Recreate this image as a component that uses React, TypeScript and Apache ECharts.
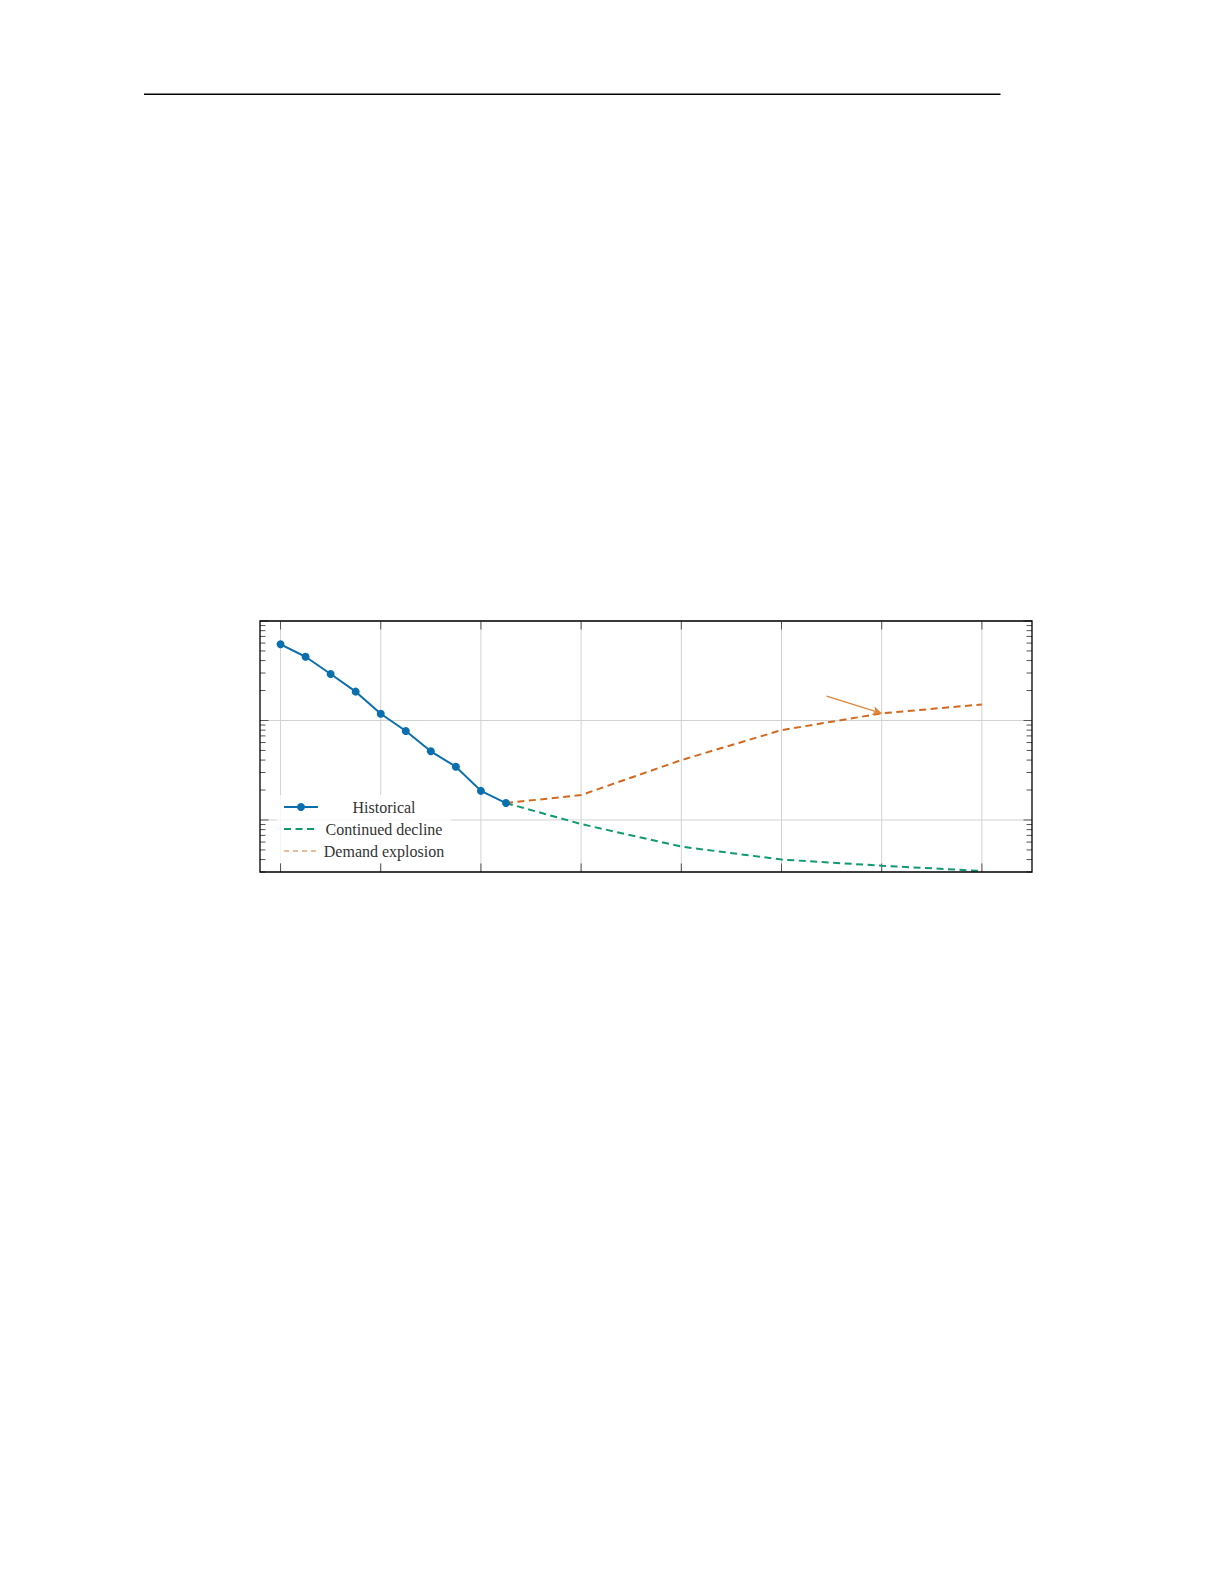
import React, { useEffect, useRef } from 'react';
import * as echarts from 'echarts';

// Historical observations (one per year) and the two projections
const historicalYears = [2016, 2017, 2018, 2019, 2020, 2021, 2022, 2023, 2024, 2025];
const historicalValues = [58.3, 43.7, 29.3, 19.5, 11.7, 7.84, 4.9, 3.43, 1.96, 1.48];

const projectionYears = [2025, 2028, 2032, 2036, 2040, 2044];
const declineValues = [1.48, 0.91, 0.54, 0.4, 0.347, 0.307];
const explosionValues = [1.48, 1.78, 4.0, 8.0, 11.8, 14.5];

// annotation arrow, pointing at the 2040 demand point
const arrowStart = [2037.8, 17.6];
const arrowEnd = [2040, 11.8];

// tick positions
const xGridTicks = [2016, 2020, 2024, 2028, 2032, 2036, 2040, 2044];
const yMajorTicks = [1, 10, 100];
const yMinorTicks = [
  0.3, 0.4, 0.5, 0.6, 0.7, 0.8, 0.9,
  2, 3, 4, 5, 6, 7, 8, 9,
  20, 30, 40, 50, 60, 70, 80, 90,
];

const X_MIN = 2015.18;
const X_MAX = 2046;
const Y_MIN = 0.3;
const Y_MAX = 100;

const BLUE = '#0b6fad';
const GREEN = '#0f9a72';
const ORANGE = '#d2691e';
const GRID_COLOR = '#d2d2d2';
const TICK_COLOR = '#555';
const FONT = "'Liberation Serif', 'DejaVu Serif', serif";

const MAJOR_LEN = 8.5;
const MINOR_LEN = 5.5;

const pair = (xs: number[], ys: number[]) => xs.map((x, i) => [x, ys[i]]);

const App: React.FC = () => {
  const chartRef = useRef<HTMLDivElement>(null);

  useEffect(() => {
    if (!chartRef.current) return;
    const chart = echarts.init(chartRef.current, undefined, { renderer: 'svg' });

    const xTickItem = (params: any, api: any) => {
      const cs = params.coordSys;
      const x = api.coord([api.value(0), 1])[0];
      const top = cs.y;
      const bottom = cs.y + cs.height;
      return {
        type: 'group',
        children: [
          { type: 'line', shape: { x1: x, y1: top, x2: x, y2: bottom }, style: { stroke: GRID_COLOR, lineWidth: 1 } },
          { type: 'line', shape: { x1: x, y1: top, x2: x, y2: top + MAJOR_LEN }, style: { stroke: TICK_COLOR, lineWidth: 1 } },
          { type: 'line', shape: { x1: x, y1: bottom, x2: x, y2: bottom - MAJOR_LEN }, style: { stroke: TICK_COLOR, lineWidth: 1 } },
        ],
      };
    };

    const yTickItem = (len: number, withGrid: boolean) => (params: any, api: any) => {
      const cs = params.coordSys;
      const y = api.coord([2020, api.value(1)])[1];
      const left = cs.x;
      const right = cs.x + cs.width;
      const children: any[] = [];
      if (withGrid) {
        children.push({ type: 'line', shape: { x1: left, y1: y, x2: right, y2: y }, style: { stroke: GRID_COLOR, lineWidth: 1 } });
      }
      children.push({ type: 'line', shape: { x1: left, y1: y, x2: left + len, y2: y }, style: { stroke: TICK_COLOR, lineWidth: 1 } });
      children.push({ type: 'line', shape: { x1: right, y1: y, x2: right - len, y2: y }, style: { stroke: TICK_COLOR, lineWidth: 1 } });
      return { type: 'group', children };
    };

    const option = {
      animation: false,
      backgroundColor: '#fff',
      textStyle: { fontFamily: FONT },
      graphic: [
        {
          type: 'line',
          shape: { x1: 144, y1: 94.3, x2: 1000.5, y2: 94.3 },
          style: { stroke: '#000', lineWidth: 1.4 },
        },
      ],
      grid: {
        left: 260,
        top: 621,
        width: 772,
        height: 251,
        show: true,
        borderColor: '#000',
        borderWidth: 1.3,
        backgroundColor: 'transparent',
        z: 5,
      },
      xAxis: {
        type: 'value',
        min: X_MIN,
        max: X_MAX,
        axisLine: { show: false },
        axisTick: { show: false },
        axisLabel: { show: false },
        splitLine: { show: false },
      },
      yAxis: {
        type: 'log',
        logBase: 10,
        min: Y_MIN,
        max: Y_MAX,
        axisLine: { show: false },
        axisTick: { show: false },
        axisLabel: { show: false },
        splitLine: { show: false },
        minorTick: { show: false },
      },
      legend: {
        orient: 'vertical',
        left: 277,
        top: 795,
        padding: [4, 6, 4, 6],
        backgroundColor: 'rgba(255,255,255,0.8)',
        itemWidth: 34,
        itemHeight: 10,
        itemGap: 6,
        selectedMode: false,
        formatter: (name: string) => `{c|${name}}`,
        textStyle: {
          fontFamily: FONT,
          fontSize: 16,
          color: '#333',
          rich: {
            c: { width: 122, align: 'center', fontFamily: FONT, fontSize: 16, color: '#333', lineHeight: 16 },
          },
        },
        data: [
          { name: 'Historical' },
          { name: 'Continued decline', itemStyle: { opacity: 0 } },
          {
            name: 'Demand explosion',
            itemStyle: { opacity: 0 },
            lineStyle: { width: 1, color: '#cf7a36', type: [5, 4] },
          },
        ],
      },
      series: [
        {
          type: 'custom',
          name: 'xgrid',
          silent: true,
          z: 1,
          renderItem: xTickItem,
          data: xGridTicks.map((v) => [v, 1]),
        },
        {
          type: 'custom',
          name: 'ymajor',
          silent: true,
          z: 1,
          renderItem: yTickItem(MAJOR_LEN, true),
          data: yMajorTicks.map((v) => [2020, v]),
        },
        {
          type: 'custom',
          name: 'yminor',
          silent: true,
          z: 1,
          renderItem: yTickItem(MINOR_LEN, false),
          data: yMinorTicks.map((v) => [2020, v]),
        },
        {
          type: 'line',
          name: 'Historical',
          z: 4,
          data: pair(historicalYears, historicalValues),
          symbol: 'circle',
          symbolSize: 8,
          showSymbol: true,
          itemStyle: { color: BLUE },
          lineStyle: { color: BLUE, width: 2 },
        },
        {
          type: 'line',
          name: 'Continued decline',
          z: 3,
          data: pair(projectionYears, declineValues),
          symbol: 'none',
          itemStyle: { color: GREEN },
          lineStyle: { color: GREEN, width: 2, type: [7, 4.5] },
        },
        {
          type: 'line',
          name: 'Demand explosion',
          z: 3,
          data: pair(projectionYears, explosionValues),
          symbol: 'none',
          itemStyle: { color: ORANGE },
          lineStyle: { color: ORANGE, width: 2, type: [7, 4.5] },
          markLine: {
            silent: true,
            symbol: ['none', 'arrow'],
            symbolSize: [7, 9],
            label: { show: false },
            lineStyle: { color: '#e0853a', width: 1.2, type: 'solid' },
            data: [[{ coord: arrowStart }, { coord: arrowEnd }]],
          },
        },
      ],
    } as any;

    chart.setOption(option);
    return () => chart.dispose();
  }, []);

  return (
    <div
      ref={chartRef}
      style={{ position: 'absolute', left: 0, top: 0, width: 1225, height: 1585 }}
    />
  );
};

export default App;
